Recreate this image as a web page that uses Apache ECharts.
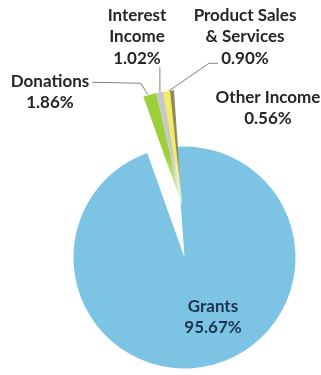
<!DOCTYPE html>
<html>
<head>
<meta charset="utf-8">
<script src="https://cdn.jsdelivr.net/npm/echarts@6/dist/echarts.min.js"></script>
<style>
html,body{margin:0;padding:0;background:#fff;}
#chart{width:321px;height:375px;}
</style>
</head>
<body>
<div id="chart"></div>
<script>
// ---- data ----
const categories = ['Grants', 'Donations', 'Interest\nIncome', 'Product Sales\n& Services', 'Other Income'];
const shares = [95.67, 1.86, 1.02, 0.90, 0.56];

// ---- styles / layout (kept apart from the data) ----
const sliceColors = ['#7dc4e4', '#9ccf3a', '#c8c8c8', '#f1ee5e', '#968a5c'];
const labelSpots = {
  0: { x: 213, y: 317 },
  1: { x: 50, y: 92 },
  2: { x: 137, y: 37 },
  3: { x: 245, y: 37 },
  4: { x: 268, y: 108 }
};

const chart = echarts.init(document.getElementById('chart'), null, { renderer: 'canvas' });

function fmt(p) {
  return p.name + '\n' + Number(p.value).toFixed(2) + '%';
}

function fade(c) {
  return new echarts.graphic.LinearGradient(0, 0, 0, 1, [
    { offset: 0, color: c },
    { offset: 0.55, color: c },
    { offset: 1, color: '#fdfbee' }
  ]);
}

const labelFont = {
  fontFamily: 'Lato',
  fontWeight: 'bold',
  fontSize: 17,
  lineHeight: 21.5,
  color: '#262626'
};

function layoutSmall(p) {
  const s = labelSpots[p.dataIndex];
  if (!s || p.dataIndex === 0) return {};
  const w = p.labelRect.width, h = p.labelRect.height;
  const out = { x: s.x, y: s.y, align: 'center', verticalAlign: 'middle' };
  const a = p.labelLinePoints ? p.labelLinePoints[0] : null;
  if (a) {
    if (p.dataIndex === 1) {
      const ey = s.y - h / 4 + 1;
      const ex = s.x + w / 2 + 3;
      out.labelLinePoints = [[a[0] - 2, a[1]], [a[0] - 9, ey + 1], [ex, ey]];
    } else if (p.dataIndex === 2) {
      const ey = s.y + h / 2 - 2;
      out.labelLinePoints = [[a[0], a[1]], [a[0], (a[1] + ey) / 2], [a[0], ey]];
    } else if (p.dataIndex === 3) {
      const ey = s.y + h / 2 - 6;
      out.labelLinePoints = [[a[0] + 2, a[1]], [s.x - 36, ey], [s.x - 27, ey]];
    }
  }
  return out;
}

const mainData = categories.map((c, i) => ({
  name: c,
  value: shares[i],
  itemStyle: { color: i === 0 ? sliceColors[0] : 'rgba(0,0,0,0)' },
  label: { show: i === 0 }
}));

const smallData = categories.map((c, i) => ({
  name: c,
  value: shares[i],
  itemStyle: { color: i === 0 ? 'rgba(0,0,0,0)' : fade(sliceColors[i]) },
  label: { show: i !== 0 },
  labelLine: { show: i !== 0 && i !== 4 }
}));

chart.setOption({
  animation: false,
  series: [
    {
      type: 'pie',
      silent: true,
      center: [184.5, 257.5],
      radius: 111,
      startAngle: 94,
      clockwise: true,
      avoidLabelOverlap: false,
      label: Object.assign({ position: 'inside', formatter: fmt }, labelFont, { color: '#1c3450' }),
      labelLine: { show: false },
      labelLayout: function (p) {
        if (p.dataIndex !== 0) return {};
        const s = labelSpots[0];
        return { x: s.x, y: s.y, align: 'center', verticalAlign: 'middle' };
      },
      data: mainData
    },
    {
      type: 'pie',
      silent: true,
      center: [182, 205],
      radius: 115,
      startAngle: 94,
      clockwise: true,
      avoidLabelOverlap: false,
      label: Object.assign({ position: 'outside', formatter: fmt }, labelFont),
      labelLine: { show: true, length: 10, length2: 10, lineStyle: { color: '#7f7f7f', width: 1 } },
      labelLayout: layoutSmall,
      data: smallData
    }
  ]
});
</script>
</body>
</html>
